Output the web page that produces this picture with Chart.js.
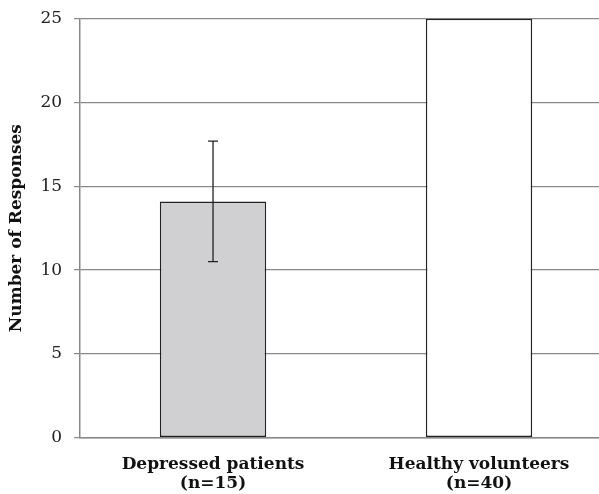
<!DOCTYPE html>
<html>
<head>
<meta charset="utf-8">
<script src="https://cdn.jsdelivr.net/npm/chart.js@4.4.0/dist/chart.umd.min.js"></script>
<style>
  html, body { margin: 0; padding: 0; background: #fff; overflow: hidden; }
  #wrap { width: 612px; height: 494px; }
</style>
</head>
<body>
<div id="wrap"><canvas id="chart"></canvas></div>
<script>
// data
const groups = [['Depressed patients', '(n=15)'], ['Healthy volunteers', '(n=40)']];
const responses = [14.1, 25];
const errLow = [10.5, null];
const errHigh = [17.7, null];
const barColors = ['#d0d0d2', '#ffffff'];
const yTicks = [0, 5, 10, 15, 20, 25];

const serif = '"DejaVu Serif", "Liberation Serif", serif';

// error bars drawn from errLow / errHigh via the scales
const errorBars = {
    id: 'errorBars',
    afterDatasetsDraw(chart) {
        const { ctx, scales: { x, y } } = chart;
        ctx.save();
        ctx.strokeStyle = '#222';
        ctx.lineWidth = 1.3;
        errLow.forEach((lo, i) => {
            if (lo == null) return;
            const cx = x.getPixelForValue(i);
            const yLo = y.getPixelForValue(lo);
            const yHi = y.getPixelForValue(errHigh[i]);
            ctx.beginPath();
            ctx.moveTo(cx, yLo); ctx.lineTo(cx, yHi);
            ctx.moveTo(cx - 5, yLo); ctx.lineTo(cx + 5, yLo);
            ctx.moveTo(cx - 5, yHi); ctx.lineTo(cx + 5, yHi);
            ctx.stroke();
        });
        ctx.restore();
    }
};

new Chart(document.getElementById('chart'), {
    type: 'bar',
    data: {
        labels: groups,
        datasets: [{
            data: responses,
            backgroundColor: barColors,
            borderColor: '#222',
            borderWidth: 1.5,
            borderSkipped: false,
            categoryPercentage: 1,
            barPercentage: 0.4
        }]
    },
    options: {
        responsive: true,
        maintainAspectRatio: false,
        animation: false,
        // the second label line runs off the bottom edge, as in the reference
        layout: { padding: { top: 0, right: 0, left: 4, bottom: -17 } },
        plugins: { legend: { display: false }, tooltip: { enabled: false } },
        scales: {
            x: {
                grid: { display: false, drawTicks: false },
                border: { color: '#888', width: 1.5 },
                ticks: {
                    color: '#111',
                    padding: 18,
                    font: { family: serif, size: 17, weight: 'bold', lineHeight: 1.1 }
                }
            },
            y: {
                min: 0,
                max: 25,
                afterBuildTicks(scale) { scale.ticks = yTicks.map(v => ({ value: v })); },
                grid: { color: '#888', lineWidth: 1.2, tickLength: 6 },
                border: { color: '#888', width: 1.5 },
                ticks: {
                    color: '#222',
                    padding: 12,
                    font: { family: serif, size: 17, lineHeight: 0.8 }
                },
                title: {
                    display: true,
                    text: 'Number of Responses',
                    color: '#111',
                    padding: { top: 2, bottom: 2 },
                    font: { family: serif, size: 17, weight: 'bold' }
                }
            }
        }
    },
    plugins: [errorBars]
});
</script>
</body>
</html>
